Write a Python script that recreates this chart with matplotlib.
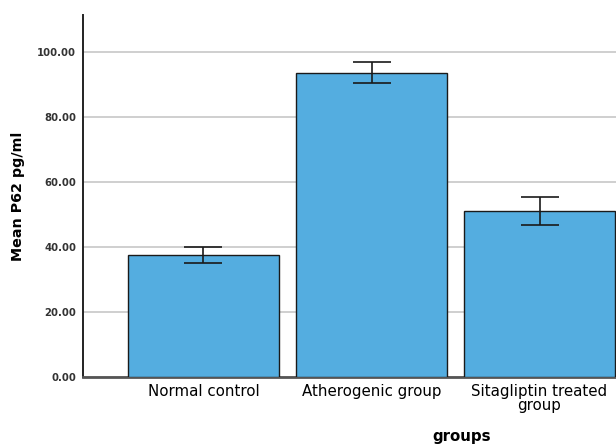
import matplotlib
matplotlib.use("Agg")
import matplotlib.pyplot as plt
import numpy as np

groups = ["Normal control", "Atherogenic group", "Sitagliptin treated\ngroup"]
means = [37.5, 93.5, 51.1]
err_low = [35.1, 90.5, 46.8]
err_high = [40.0, 96.9, 55.4]

yticks = [0, 20, 40, 60, 80, 100]

fig = plt.figure(figsize=(6.16, 4.46), dpi=100)
ax = fig.add_axes([83 / 616, 69 / 446, 1 - 83 / 616, 362 / 446])

x = np.arange(len(groups))
lower = np.array(means) - np.array(err_low)
upper = np.array(err_high) - np.array(means)

ax.bar(x, means, width=0.9, color="#54ade0", edgecolor="#1a1a1a",
       linewidth=1.0, zorder=3)
ax.errorbar(x, means, yerr=[lower, upper], fmt="none", ecolor="#1a1a1a",
            elinewidth=1.2, capsize=14, capthick=1.2, zorder=4)

ax.set_xlim(-0.717, 2.455)
ax.set_ylim(0, 111.3)
ax.set_yticks(yticks)
ax.set_yticklabels([f"{v:.2f}" for v in yticks], fontsize=7.3, fontweight="bold",
                   color="#333333")
ax.set_xticks(x)
ax.set_xticklabels(groups, fontsize=10.8, linespacing=0.95)
ax.tick_params(axis="both", length=0)
ax.tick_params(axis="y", pad=5)
ax.tick_params(axis="x", pad=5)

ax.yaxis.grid(True, color="#cfcfcf", linewidth=1.4, zorder=0)
ax.set_axisbelow(True)

for side in ["top", "right"]:
    ax.spines[side].set_visible(False)
ax.spines["left"].set_color("#222222")
ax.spines["left"].set_linewidth(1.4)
ax.spines["bottom"].set_color("#555555")
ax.spines["bottom"].set_linewidth(2.0)

ax.set_ylabel("Mean P62 pg/ml", fontsize=10.3, fontweight="bold", labelpad=9)
ax.set_xlabel("groups", fontsize=10.8, fontweight="bold")
ax.xaxis.set_label_coords(0.711, -0.145)

fig.savefig("out.png", dpi=100)
